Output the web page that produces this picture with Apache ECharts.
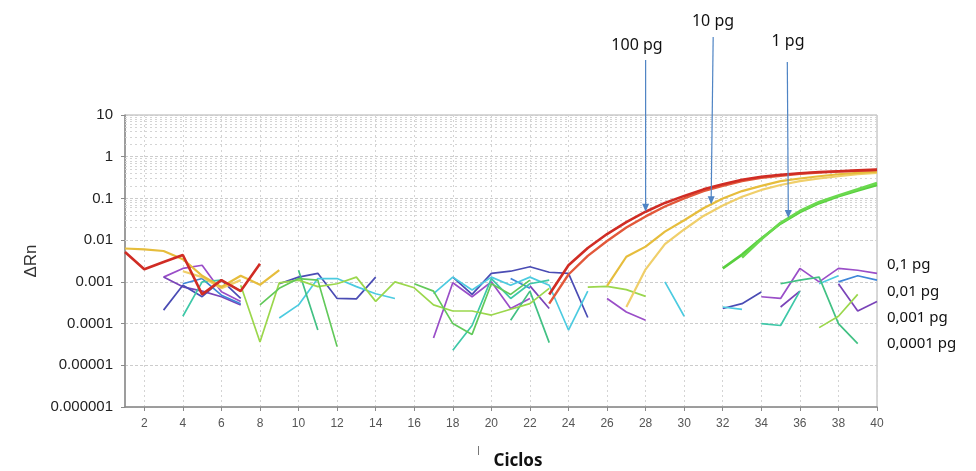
<!DOCTYPE html>
<html>
<head>
<meta charset="utf-8">
<title>Amplificación qPCR</title>
<script src="https://cdn.jsdelivr.net/npm/echarts@6/dist/echarts.min.js"></script>
<style>
  html, body { margin: 0; padding: 0; background: #ffffff; }
  #chart { width: 976px; height: 471px; }
</style>
</head>
<body>
<div id="chart"></div>
<script>
// Cycles on the x axis
const cycles = [1,2,3,4,5,6,7,8,9,10,11,12,13,14,15,16,17,18,19,20,
                21,22,23,24,25,26,27,28,29,30,31,32,33,34,35,36,37,38,39,40];

// Decade tick labels of the ΔRn axis (10^-6 .. 10^1)
const yTickLabels = ['0.000001','0.00001','0.0001','0.001','0.01','0.1','1','10'];

const N = null;

// 100 pg replicates
const red1 = [0.0052,0.002,0.003,0.0044,0.0005,0.0011,0.0006,0.0027,N,N,
              N,N,N,N,N,N,N,N,N,N,
              N,N,0.0005,0.0025,0.0065,0.014,0.027,0.048,0.078,0.115,
              0.165,0.22,0.28,0.33,0.37,0.40,0.43,0.45,0.47,0.49];
const red2 = [N,N,N,N,N,N,N,N,N,N,
              N,N,N,N,N,N,N,N,N,N,
              N,N,0.0003,0.0015,0.0042,0.0095,0.02,0.037,0.064,0.1,
              0.15,0.2,0.26,0.31,0.35,0.39,0.42,0.44,0.46,0.48];

// 10 pg replicates
const yellow1 = [0.0063,0.006,0.0055,0.0035,0.0014,0.00075,0.0014,0.00085,0.0019,N,
                 N,N,N,N,N,N,N,N,N,N,
                 N,N,N,N,N,0.0008,0.004,0.007,0.016,0.03,
                 0.058,0.1,0.15,0.2,0.26,0.3,0.34,0.38,0.41,0.44];
const yellow2 = [N,N,N,0.0018,0.0013,0.0007,0.0011,N,N,N,
                 N,N,N,N,N,N,N,N,N,N,
                 N,N,N,N,N,N,0.00025,0.002,0.008,0.018,
                 0.038,0.068,0.11,0.16,0.21,0.26,0.3,0.34,0.38,0.41];

// 1 pg replicates
const green1 = [N,N,N,N,N,N,N,N,N,N,
                N,N,N,N,N,N,N,N,N,N,
                N,N,N,N,N,N,N,N,N,N,
                N,0.0021,0.0045,0.011,0.025,0.047,0.077,0.112,0.155,0.21];
const green2 = [N,N,N,N,N,N,N,N,N,N,
                N,N,N,N,N,N,N,N,N,N,
                N,N,N,N,N,N,N,N,N,N,
                N,N,0.0038,0.0105,0.026,0.05,0.082,0.118,0.165,0.235];

// 0,1 pg – 0,0001 pg replicates (below threshold, gaps where ΔRn <= 0)
const purple = [N,N,0.0013,0.0021,0.0025,0.00058,0.00034,N,N,N,
                N,N,N,N,N,N,0.000045,0.00095,0.00044,0.001,
                0.00023,0.0004,N,N,N,0.0004,0.00019,0.00012,N,N,
                N,N,N,0.00044,0.0004,0.0021,0.001,0.0021,0.0019,0.0016];
const violet = [N,N,0.0013,0.00076,0.0006,0.00044,0.00028,N,N,N,
                N,N,N,N,N,N,N,N,N,N,
                N,0.0008,0.00023,N,N,N,N,N,N,N,
                N,N,N,N,0.00025,0.0006,N,0.0009,0.0002,0.00034];
const indigo = [N,N,0.00021,0.00083,0.00044,0.0011,0.0004,N,0.0009,0.0013,
                0.0016,0.0004,0.00039,0.0013,N,N,N,0.0013,0.0005,0.0016,
                0.0018,0.0023,0.0017,0.0016,0.00014,N,N,N,N,N,
                N,0.00023,0.0003,0.00057,N,N,N,N,N,N];
const blue = [N,N,N,0.0009,0.0012,0.00048,0.0003,N,N,N,
              N,N,N,N,N,N,N,N,N,N,
              0.0012,0.0007,N,N,N,N,N,N,N,N,
              N,N,N,N,N,N,N,0.001,0.0014,0.0011];
const cyan = [N,N,N,N,N,N,N,N,0.000136,0.00028,
              0.0012,0.0012,0.00077,0.00052,0.0004,N,0.00052,0.0013,0.00064,0.0013,
              0.00083,0.0013,0.00083,0.00007,0.0006,N,N,N,0.001,0.00015,
              N,0.00025,0.00022,N,N,N,0.0009,0.0014,N,N];
const teal = [N,N,N,0.00015,0.001,0.0011,0.0006,N,N,N,
              N,N,N,N,N,N,N,0.000023,0.00009,0.0012,
              0.0004,0.0009,0.0011,N,N,N,N,N,N,N,
              N,N,N,0.0001,0.00009,0.0006,N,N,N,N];
const greenTeal = [N,N,N,N,N,N,N,N,N,0.0019,
                   0.00007,N,N,N,N,N,N,N,N,N,
                   0.00012,0.0006,0.000035,N,N,N,N,N,N,N,
                   N,N,N,N,0.0009,0.0011,0.0013,0.0001,0.000033,N];
const lime = [N,N,N,N,N,N,0.00083,0.000036,0.00095,0.0011,
              0.00077,0.0009,0.0013,0.00034,0.001,0.00072,0.00028,0.0002,0.0002,0.00016,
              0.00022,0.0003,0.0007,N,0.00075,0.00078,0.00065,0.00045,N,N,
              N,N,N,N,N,N,0.00008,0.00015,0.0005,N];
const grass = [N,N,N,N,N,N,N,0.00028,0.0007,0.0012,
               0.0011,0.000028,N,N,N,0.0009,0.0006,0.0001,0.000055,0.0009,
               0.0005,0.0011,N,N,N,N,N,N,N,N,
               N,N,N,N,N,N,N,N,N,N];

// Minor log grid positions (2..9 within each decade)
const minorGrid = [];
for (let d = -6; d <= 0; d++) {
  for (let k = 2; k <= 9; k++) minorGrid.push(+(k * Math.pow(10, d)).toPrecision(2));
}

const seriesDefs = [
  { data: purple, color: '#9a4ec8', w: 1.7 },
  { data: violet, color: '#7a44b8', w: 1.7 },
  { data: indigo, color: '#4a4cb4', w: 1.7 },
  { data: blue, color: '#3f86d8', w: 1.7 },
  { data: cyan, color: '#4ccbe0', w: 1.7 },
  { data: teal, color: '#3ec8a8', w: 1.7 },
  { data: greenTeal, color: '#42c184', w: 1.7 },
  { data: lime, color: '#9bd74c', w: 1.7 },
  { data: grass, color: '#62c95a', w: 1.7 },
  { data: green1, color: '#58cf3e', w: 2.6 },
  { data: green2, color: '#6ad94e', w: 2.6 },
  { data: yellow2, color: '#f0cf6a', w: 2.2 },
  { data: yellow1, color: '#e6bd3c', w: 2.2 },
  { data: red2, color: '#e2583a', w: 2.4 },
  { data: red1, color: '#d02c24', w: 2.6 }
];

const gridLine = '#d4d4d4';

const series = seriesDefs.map((s, i) => ({
  type: 'line',
  data: s.data,
  symbol: 'none',
  showSymbol: false,
  connectNulls: false,
  smooth: false,
  silent: true,
  z: 2 + i,
  lineStyle: { color: s.color, width: s.w },
  itemStyle: { color: s.color }
}));

// Minor dotted lines of the log grid
series[0].markLine = {
  silent: true,
  symbol: ['none', 'none'],
  label: { show: false },
  animation: false,
  lineStyle: { color: gridLine, type: [2, 3], width: 1 },
  data: minorGrid.map(v => ({ yAxis: v }))
};

const chart = echarts.init(document.getElementById('chart'), null, { renderer: 'canvas' });

chart.setOption({
  animation: false,
  backgroundColor: '#ffffff',
  grid: { left: 125, right: 99, top: 115, bottom: 64, show: true, borderColor: '#b0b0b0', borderWidth: 1 },
  xAxis: {
    type: 'category',
    data: cycles,
    boundaryGap: false,
    axisLine: { lineStyle: { color: '#8a8a8a', width: 1.5 } },
    axisTick: { interval: (i) => i % 2 === 1, length: 4, lineStyle: { color: '#8a8a8a' } },
    axisLabel: {
      interval: (i) => i % 2 === 1,
      color: '#555',
      fontFamily: 'Liberation Sans, Arial, sans-serif',
      fontSize: 12,
      margin: 11
    },
    splitLine: { show: true, interval: (i) => i % 2 === 1, lineStyle: { color: gridLine, type: [2, 3] } }
  },
  yAxis: {
    type: 'log',
    logBase: 10,
    min: 0.000001,
    max: 10,
    name: 'ΔRn',
    nameLocation: 'middle',
    nameGap: 76,
    nameRotate: 90,
    nameTextStyle: { color: '#333', fontSize: 17, fontFamily: 'Liberation Sans, Arial, sans-serif' },
    axisLine: { show: true, lineStyle: { color: '#8a8a8a', width: 1.5 } },
    axisTick: { show: true, length: 4, lineStyle: { color: '#8a8a8a' } },
    axisLabel: {
      color: '#222',
      fontSize: 15,
      fontFamily: 'Liberation Sans, Arial, sans-serif',
      margin: 12,
      formatter: (v) => yTickLabels[Math.round(Math.log10(v)) + 6]
    },
    splitLine: { show: true, lineStyle: { color: '#cccccc', type: [3, 2] } }
  },
  series: series
});

// Log-interpolated value of a curve at a fractional cycle
function curveAt(arr, cycle) {
  const i = Math.floor(cycle) - 1;
  const f = cycle - Math.floor(cycle);
  if (f === 0 || arr[i + 1] == null) return arr[i];
  return Math.pow(10, Math.log10(arr[i]) * (1 - f) + Math.log10(arr[i + 1]) * f);
}
function toPixel(cycle, value) {
  const i = Math.floor(cycle) - 1;
  const f = cycle - Math.floor(cycle);
  const x0 = chart.convertToPixel({ xAxisIndex: 0 }, i);
  const x1 = chart.convertToPixel({ xAxisIndex: 0 }, i + 1);
  const y = chart.convertToPixel({ yAxisIndex: 0 }, value);
  return [x0 + (x1 - x0) * f, y];
}

// Callouts pointing at the amplification curves
const callouts = [
  { text: '100 pg', curve: red1, cycle: 28.0, labelX: 637, labelY: 45, startY: 60, dx: 0 },
  { text: '10 pg', curve: yellow1, cycle: 31.4, labelX: 713, labelY: 21, startY: 37, dx: 2 },
  { text: '1 pg', curve: green2, cycle: 35.4, labelX: 788, labelY: 41, startY: 62, dx: -1 }
];

const arrowColor = '#4f84c4';
const graphics = [];
callouts.forEach(c => {
  const tip = toPixel(c.cycle, curveAt(c.curve, c.cycle));
  graphics.push({
    type: 'line',
    shape: { x1: tip[0] + c.dx, y1: c.startY, x2: tip[0], y2: tip[1] - 5 },
    style: { stroke: arrowColor, lineWidth: 1.2 },
    z: 50
  });
  graphics.push({
    type: 'polygon',
    shape: { points: [[tip[0], tip[1]], [tip[0] - 3.5, tip[1] - 8], [tip[0] + 3.5, tip[1] - 8]] },
    style: { fill: arrowColor },
    z: 50
  });
  graphics.push({
    type: 'text',
    x: c.labelX,
    y: c.labelY,
    style: {
      text: c.text,
      fill: '#111',
      font: '16px "Noto Sans", "Open Sans", sans-serif',
      textAlign: 'center',
      textVerticalAlign: 'middle'
    },
    z: 50
  });
});

// Labels for the dilutions that stay below threshold
const lowLabels = ['0,1 pg', '0,01 pg', '0,001 pg', '0,0001 pg'];
const lowLabelY = [265, 292, 318, 344];
lowLabels.forEach((t, i) => {
  graphics.push({
    type: 'text',
    x: 887,
    y: lowLabelY[i],
    style: {
      text: t,
      fill: '#111',
      font: '15px "Noto Sans", "Open Sans", sans-serif',
      textAlign: 'left',
      textVerticalAlign: 'middle'
    },
    z: 50
  });
});

// X axis title and the small mark beside it
graphics.push({
  type: 'text',
  x: 518,
  y: 461,
  style: {
    text: 'Ciclos',
    fill: '#111',
    font: 'bold 17px "Noto Sans", "Open Sans", sans-serif',
    textAlign: 'center',
    textVerticalAlign: 'middle'
  },
  z: 50
});
graphics.push({
  type: 'line',
  shape: { x1: 478.5, y1: 446, x2: 478.5, y2: 455 },
  style: { stroke: '#777', lineWidth: 1 },
  z: 50
});

chart.setOption({ graphic: graphics });
</script>
</body>
</html>
